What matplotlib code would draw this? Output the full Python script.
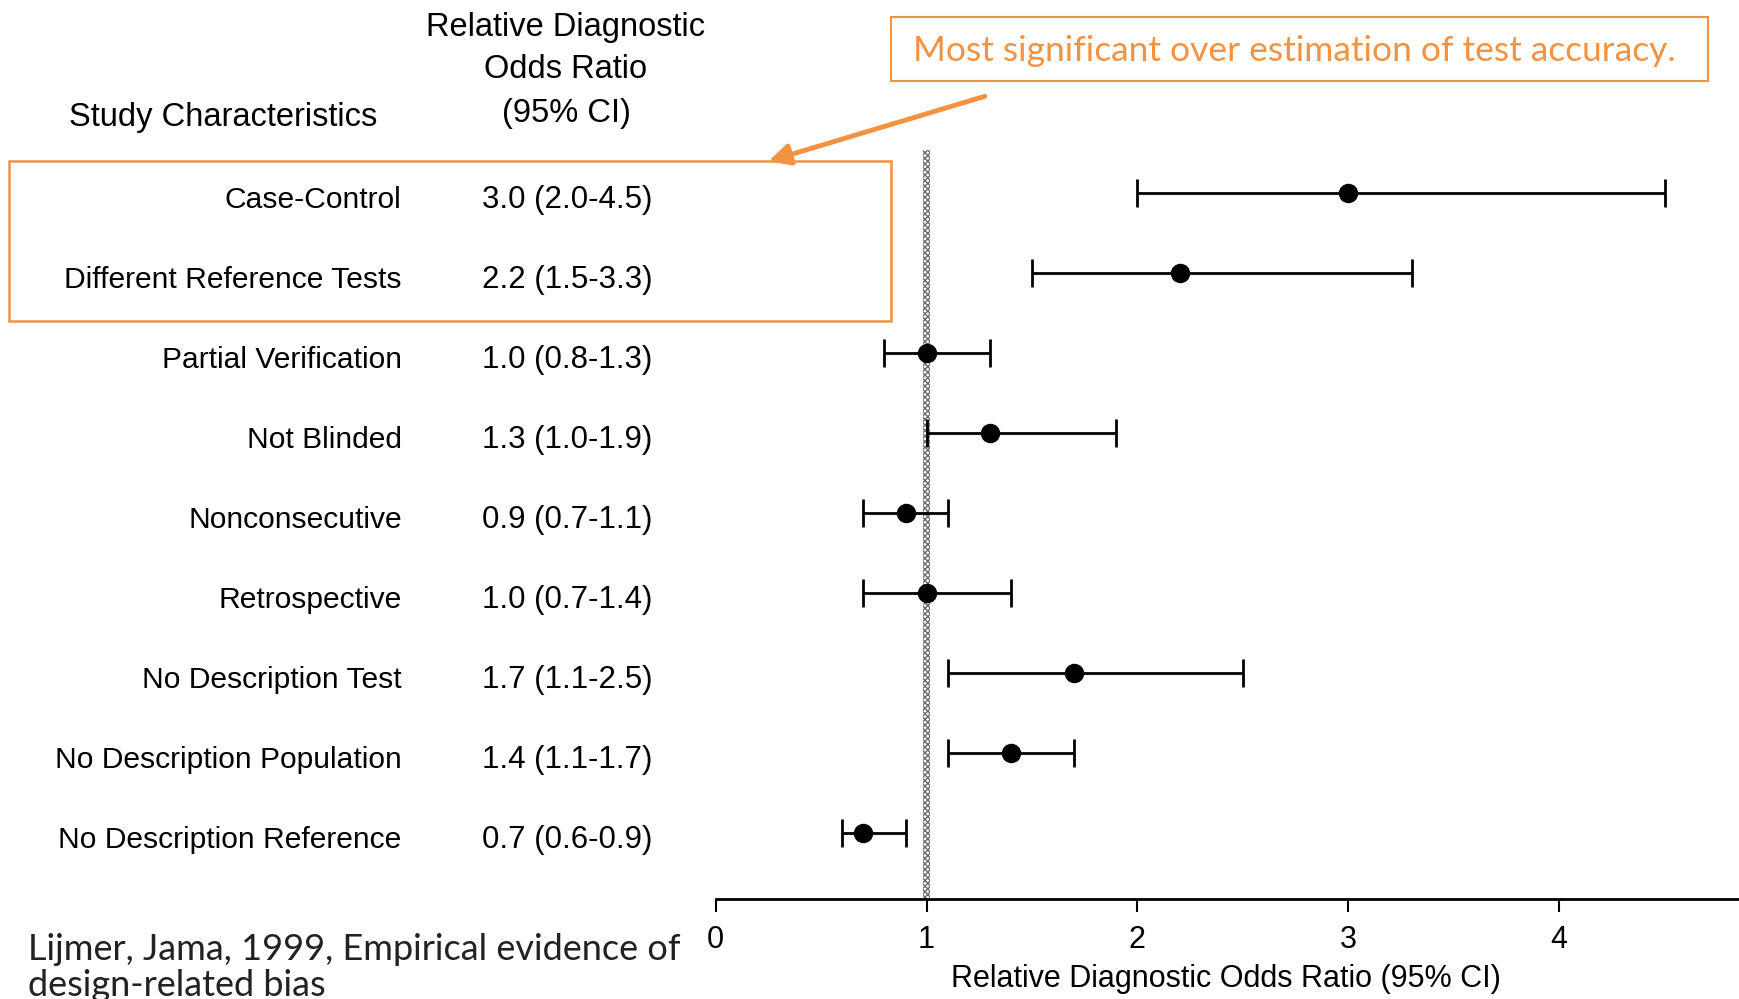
import numpy as np
import matplotlib
matplotlib.use('Agg')
import matplotlib.pyplot as plt
from matplotlib.transforms import blended_transform_factory
from matplotlib.patches import Rectangle, FancyArrowPatch

# ---------------- data ----------------
characteristics = ['Case-Control', 'Different Reference Tests', 'Partial Verification',
                   'Not Blinded', 'Nonconsecutive', 'Retrospective',
                   'No Description Test', 'No Description Population',
                   'No Description Reference']
rdor = [3.0, 2.2, 1.0, 1.3, 0.9, 1.0, 1.7, 1.4, 0.7]
ci_low = [2.0, 1.5, 0.8, 1.0, 0.7, 0.7, 1.1, 1.1, 0.6]
ci_high = [4.5, 3.3, 1.3, 1.9, 1.1, 1.4, 2.5, 1.7, 0.9]
x_ticks = [0, 1, 2, 3, 4]

orange = '#F39240'
narrow = ['Liberation Sans Narrow', 'Liberation Sans', 'DejaVu Sans']
calib = ['Lato', 'DejaVu Sans']

W, H = 1568.0, 900.0  # layout measured on the reference


def fx(x):
    return x / W


def fy(y):
    return 1 - y / H


fig = plt.figure(figsize=(17.4, 9.99), dpi=100)

# forest plot axes: x=0 at 645px, 1 unit = 190px, bottom at 810px, top at 135px
ax = fig.add_axes([fx(645), fy(810), 1 - fx(645), (810 - 135) / H])
y = np.arange(len(characteristics))
row_h = 72.1
ax.set_ylim((810 - 174) / row_h, (135 - 174) / row_h)
ax.set_xlim(0, (W - 645) / 190)

# reference line at 1 (stippled band)
ax.axvspan(0.985, 1.015, facecolor='white', edgecolor='#6a6a6a', hatch='xxxxxx',
           linewidth=0, zorder=1)

vals = np.array(rdor)
err = [vals - np.array(ci_low), np.array(ci_high) - vals]
ax.errorbar(vals, y, xerr=err, fmt='o', color='black', ecolor='black',
            markersize=13, elinewidth=2, capsize=10, capthick=2, zorder=3)

for s in ['top', 'right', 'left']:
    ax.spines[s].set_visible(False)
ax.spines['bottom'].set_linewidth(2)
ax.set_yticks([])
ax.set_xticks(x_ticks)
ax.tick_params(axis='x', direction='out', length=9, width=1.5, pad=10,
               labelsize=22)
for lab in ax.get_xticklabels():
    lab.set_fontfamily(narrow)
ax.set_xlabel('Relative Diagnostic Odds Ratio (95% CI)', fontsize=22,
              family=narrow)
ax.xaxis.set_label_coords(((1105 - 645) / 190) / ((W - 645) / 190), -0.107)
ax.xaxis.label.set_va('center')

# table columns
tr = blended_transform_factory(fig.transFigure, ax.transData)
for i, name in enumerate(characteristics):
    ax.text(fx(362), i + 0.08, name, transform=tr, ha='right', va='center',
            fontsize=21.6, family=narrow, clip_on=False)
    ax.text(fx(434), i + 0.08, f'{rdor[i]:.1f} ({ci_low[i]:.1f}-{ci_high[i]:.1f})',
            transform=tr, ha='left', va='center', fontsize=22.5, family=narrow,
            clip_on=False)

for txt, yy in [('Relative Diagnostic', 25), ('Odds Ratio', 63), ('(95% CI)', 102)]:
    fig.text(fx(510), fy(yy), txt, ha='center', va='center',
             fontsize=23.5, family=narrow)
fig.text(fx(62), fy(106), 'Study Characteristics', ha='left', va='center',
         fontsize=23.5, family=narrow)

# highlight box around first two rows
fig.patches.append(Rectangle((fx(8), fy(289)), fx(803) - fx(8), (289 - 145) / H,
                             transform=fig.transFigure, fill=False,
                             edgecolor=orange, linewidth=1.8))

# callout box
fig.patches.append(Rectangle((fx(803), fy(73)), fx(1539) - fx(803), (73 - 15) / H,
                             transform=fig.transFigure, fill=False,
                             edgecolor=orange, linewidth=1.5))
fig.text(fx(1166), fy(46), 'Most significant over estimation of test accuracy.',
         ha='center', va='center', fontsize=25.5, family=calib, color=orange)

arrow = FancyArrowPatch((fx(890), fy(86)), (fx(690), fy(146)),
                        transform=fig.transFigure, arrowstyle='-|>',
                        mutation_scale=32, color=orange, linewidth=3.5)
fig.patches.append(arrow)

# citation
fig.text(fx(25), fy(855), 'Lijmer, Jama, 1999, Empirical evidence of',
         ha='left', va='center', fontsize=26, family=calib, color='#222222')
fig.text(fx(25), fy(888), 'design-related bias', ha='left', va='center',
         fontsize=26, family=calib, color='#222222')

fig.savefig('out.png', dpi=100, facecolor='white')
